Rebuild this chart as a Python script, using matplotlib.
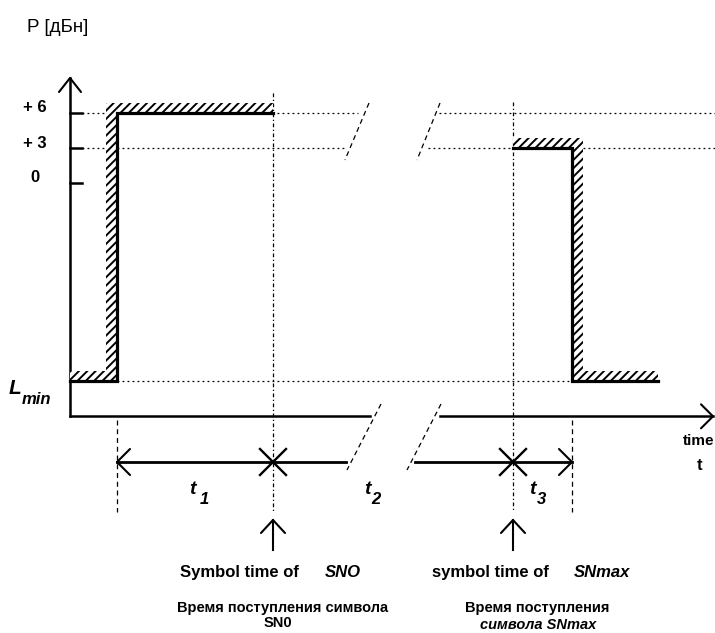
import numpy as np
import matplotlib.pyplot as plt

plt.rcParams['font.family'] = ['Liberation Sans', 'DejaVu Sans']
plt.rcParams['hatch.linewidth'] = 1.4

# power levels (dB)
level_ticks = [6, 3, 0]
level_labels = ['+ 6', '+ 3', '0']
L_MIN = -17
AXIS_LEVEL = -20

# time instants along the (schematic) time axis
t_axis = 70
t_rise = 117      # start of t1
t_sn0 = 273       # symbol time of SN0
t_snmax = 513     # symbol time of SNmax
t_fall = 572      # end of t3
t_end = 658

pulse1_t = [t_axis, t_rise, t_rise, t_sn0]
pulse1_p = [L_MIN, L_MIN, 6, 6]
pulse2_t = [t_snmax, t_fall, t_fall, t_end]
pulse2_p = [3, 3, L_MIN, L_MIN]

K = 3 / 35  # dB per pixel row


def row(px):
    # pixel row of the drawing -> level units
    return 6 - (px - 113) * K


fig = plt.figure(figsize=(7.15, 6.33), dpi=100)
ax = fig.add_axes([0, 0, 1, 1])
ax.set_xlim(0, 715)
ax.set_ylim(row(633), row(0))
ax.axis('off')

black = 'black'
dot = (0, (1.5, 2.5))
dash = (0, (4, 3))


def chevron(x, y, dx, dy):
    ax.plot([x + dx, x, x + dx], [y + dy, y, y - dy], color=black, lw=1.5,
            solid_capstyle='round')


def vchevron(x, y, dx, dy):
    ax.plot([x - dx, x, x + dx], [y - dy, y, y - dy], color=black, lw=1.5,
            solid_capstyle='round')


def cross(x, y, s=13):
    ax.plot([x - s, x + s], [y + s * K, y - s * K], color=black, lw=1.7)
    ax.plot([x - s, x + s], [y - s * K, y + s * K], color=black, lw=1.7)


# axes
ax.plot([t_axis, t_axis], [AXIS_LEVEL, row(78)], color=black, lw=1.8)
vchevron(t_axis, row(78), 11, 14 * K)
for v in level_ticks:
    ax.plot([t_axis, t_axis + 12], [v, v], color=black, lw=1.8)
for v, lab in zip(level_ticks, level_labels):
    ax.text(35, v + 5 * K, lab, ha='center', va='center', fontsize=12,
            fontweight='bold')

ax.plot([t_axis, 370], [AXIS_LEVEL, AXIS_LEVEL], color=black, lw=1.8)
ax.plot([440, 713], [AXIS_LEVEL, AXIS_LEVEL], color=black, lw=1.8)
chevron(713, AXIS_LEVEL, -12, 12 * K)

# dotted reference levels
ax.plot([t_axis + 12, 358], [6, 6], color=black, lw=0.9, ls=dot, zorder=1)
ax.plot([439, 715], [6, 6], color=black, lw=0.9, ls=dot, zorder=1)
ax.plot([t_axis + 12, 345], [3, 3], color=black, lw=0.9, ls=dot, zorder=1)
ax.plot([428, 715], [3, 3], color=black, lw=0.9, ls=dot, zorder=1)
ax.plot([t_rise, t_fall], [L_MIN, L_MIN], color=black, lw=0.9, ls=dot, zorder=1)

# break marks
for (x0, y0, x1, y1) in [(369, 103, 345, 160), (440, 103, 417, 160),
                         (381, 404, 347, 470), (441, 404, 407, 470)]:
    ax.plot([x0, x1], [row(y0), row(y1)], color=black, lw=0.9, ls=dash)

# vertical markers
ax.plot([t_sn0, t_sn0], [row(93), row(512)], color=black, lw=0.9,
        ls=(0, (3, 2, 1, 2)), zorder=1)
ax.plot([t_snmax, t_snmax], [row(102), row(512)], color=black, lw=0.9,
        ls=(0, (3, 2, 1, 2)), zorder=1)
for t in (t_rise, t_fall):
    ax.plot([t, t], [row(420), row(512)], color=black, lw=0.9, ls=dash)

# hatched pulse masks
h = 10 * K
w = 11
m1_t = [t_axis, t_rise, t_rise, t_sn0, t_sn0, t_rise - w, t_rise - w, t_axis]
m1_p = [L_MIN, L_MIN, 6, 6, 6 + h, 6 + h, L_MIN + h, L_MIN + h]
ax.fill(m1_t, m1_p, facecolor='white', edgecolor=black, lw=0, hatch='////',
        zorder=2)
m2_t = [t_snmax, t_fall, t_fall, t_end, t_end, t_fall + w, t_fall + w, t_snmax]
m2_p = [3, 3, L_MIN, L_MIN, L_MIN + h, L_MIN + h, 3 + h, 3 + h]
ax.fill(m2_t, m2_p, facecolor='white', edgecolor=black, lw=0, hatch='////',
        zorder=2)

ax.plot(pulse1_t, pulse1_p, color=black, lw=2.3, zorder=3,
        solid_joinstyle='miter')
ax.plot(pulse2_t, pulse2_p, color=black, lw=2.3, zorder=3,
        solid_joinstyle='miter')

# time intervals
y_t = row(462)
ax.plot([t_rise, 346], [y_t, y_t], color=black, lw=2)
ax.plot([415, t_fall], [y_t, y_t], color=black, lw=2)
chevron(t_rise, y_t, 13, 13 * K)
chevron(t_fall, y_t, -13, 13 * K)
cross(t_sn0, y_t)
cross(t_snmax, y_t)

for t in (t_sn0, t_snmax):
    ax.plot([t, t], [row(550), row(520)], color=black, lw=1.5)
    vchevron(t, row(520), 12, 13 * K)

# labels
ax.text(27, row(27), 'P [дБн]', ha='left', va='center', fontsize=13.5)
ax.text(9, row(389), 'L', ha='left', va='center', fontsize=15,
        fontstyle='italic', fontweight='bold')
ax.text(22, row(400), 'min', ha='left', va='center', fontsize=12,
        fontstyle='italic', fontweight='bold')

for x, sub, xs in [(189, '1', 200), (364, '2', 371), (529, '3', 537)]:
    ax.text(x, row(490), 't', ha='left', va='center', fontsize=14,
            fontstyle='italic', fontweight='bold')
    ax.text(xs, row(500), sub, ha='left', va='center', fontsize=12,
            fontstyle='italic', fontweight='bold')

ax.text(699, row(441), 'time', ha='center', va='center', fontsize=11,
        fontweight='bold')
ax.text(700, row(465), 't', ha='center', va='center', fontsize=12,
        fontweight='bold')

ax.text(180, row(577), 'Symbol time of', ha='left', va='baseline',
        fontsize=12, fontweight='bold')
ax.text(325, row(577), 'SNO', ha='left', va='baseline', fontsize=12,
        fontweight='bold', fontstyle='italic')
ax.text(432, row(577), 'symbol time of', ha='left', va='baseline',
        fontsize=12, fontweight='bold')
ax.text(574, row(577), 'SNmax', ha='left', va='baseline', fontsize=12,
        fontweight='bold', fontstyle='italic')

ax.text(283, row(608), 'Время поступления символа', ha='center', va='center',
        fontsize=10.5, fontweight='bold')
ax.text(278, row(623), 'SN0', ha='center', va='center', fontsize=10.5,
        fontweight='bold')
ax.text(537, row(608), 'Время поступления', ha='center', va='center',
        fontsize=10.5, fontweight='bold')
ax.text(538, row(625), 'символа SNmax', ha='center', va='center',
        fontsize=10.5, fontweight='bold', fontstyle='italic')

fig.savefig('out.png', dpi=100)
